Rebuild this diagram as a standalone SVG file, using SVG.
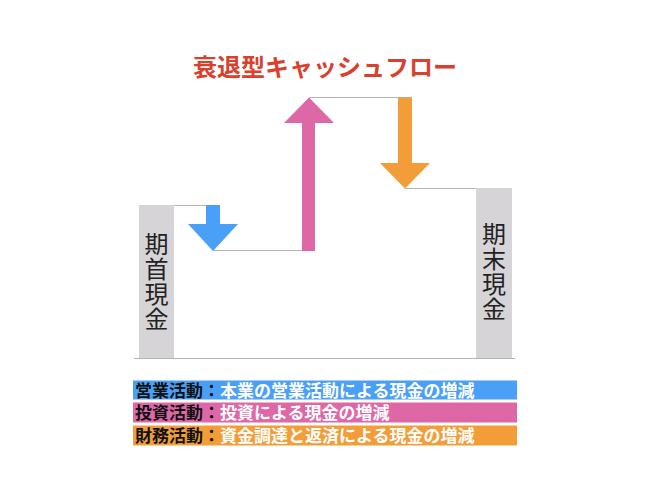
<svg xmlns="http://www.w3.org/2000/svg" width="650" height="500" viewBox="0 0 650 500">
<style>
.cjk{font-family:"Noto Sans CJK JP","Noto Sans CJK SC",sans-serif}
.bar{fill:#d6d4d6}
.guide{stroke:#b4b4b4;stroke-width:1.2;fill:none}
.vt{font-size:24px;fill:#222;text-anchor:middle}
.leg{font-size:17px;font-weight:bold}
.k{fill:#111}
.w{fill:#fff}
</style>
<rect width="650" height="500" fill="#fff"/>
<text class="cjk" x="325" y="76" font-size="24" font-weight="bold" fill="#d9412f" text-anchor="middle">衰退型キャッシュフロー</text>
<g id="connectors">
<line class="guide" x1="134" y1="358.5" x2="515" y2="358.5"/>
<line class="guide" x1="139" y1="205.5" x2="219" y2="205.5"/>
<line class="guide" x1="213" y1="250.5" x2="315" y2="250.5"/>
<line class="guide" x1="309" y1="97.5" x2="412" y2="97.5"/>
<line class="guide" x1="405" y1="188.5" x2="511" y2="188.5"/>
</g>
<g id="start-cash">
<rect class="bar" x="139" y="205" width="35" height="153"/>
<text class="cjk vt" x="156.5" y="253">期</text>
<text class="cjk vt" x="156.5" y="278">首</text>
<text class="cjk vt" x="156.5" y="303">現</text>
<text class="cjk vt" x="156.5" y="328">金</text>
</g>
<g id="end-cash">
<rect class="bar" x="476" y="188" width="36" height="170"/>
<text class="cjk vt" x="494" y="243">期</text>
<text class="cjk vt" x="494" y="268">末</text>
<text class="cjk vt" x="494" y="293">現</text>
<text class="cjk vt" x="494" y="318">金</text>
</g>
<g id="operating-arrow">
<polygon fill="#4aa0f6" points="206,205 220,205 220,224 238,224 213,251 188,224 206,224"/>
</g>
<g id="investing-arrow">
<polygon fill="#de68a6" points="302,251 315,251 315,123 334,123 309,97.5 284,123 302,123"/>
</g>
<g id="financing-arrow">
<polygon fill="#f29d38" points="398,97.5 412,97.5 412,163 430,163 405,188.5 380,163 398,163"/>
</g>
<g id="legend-operating">
<rect x="133" y="380.5" width="384" height="19" fill="#4aa0f6"/>
<text class="cjk leg" x="135" y="396.5"><tspan class="k">営業活動：</tspan><tspan class="w">本業の営業活動による現金の増減</tspan></text>
</g>
<g id="legend-investing">
<rect x="133" y="402.5" width="384" height="20" fill="#de68a6"/>
<text class="cjk leg" x="135" y="419"><tspan class="k">投資活動：</tspan><tspan class="w">投資による現金の増減</tspan></text>
</g>
<g id="legend-financing">
<rect x="133" y="425.5" width="384" height="20" fill="#f29d38"/>
<text class="cjk leg" x="135" y="442"><tspan class="k">財務活動：</tspan><tspan class="w">資金調達と返済による現金の増減</tspan></text>
</g>
</svg>
